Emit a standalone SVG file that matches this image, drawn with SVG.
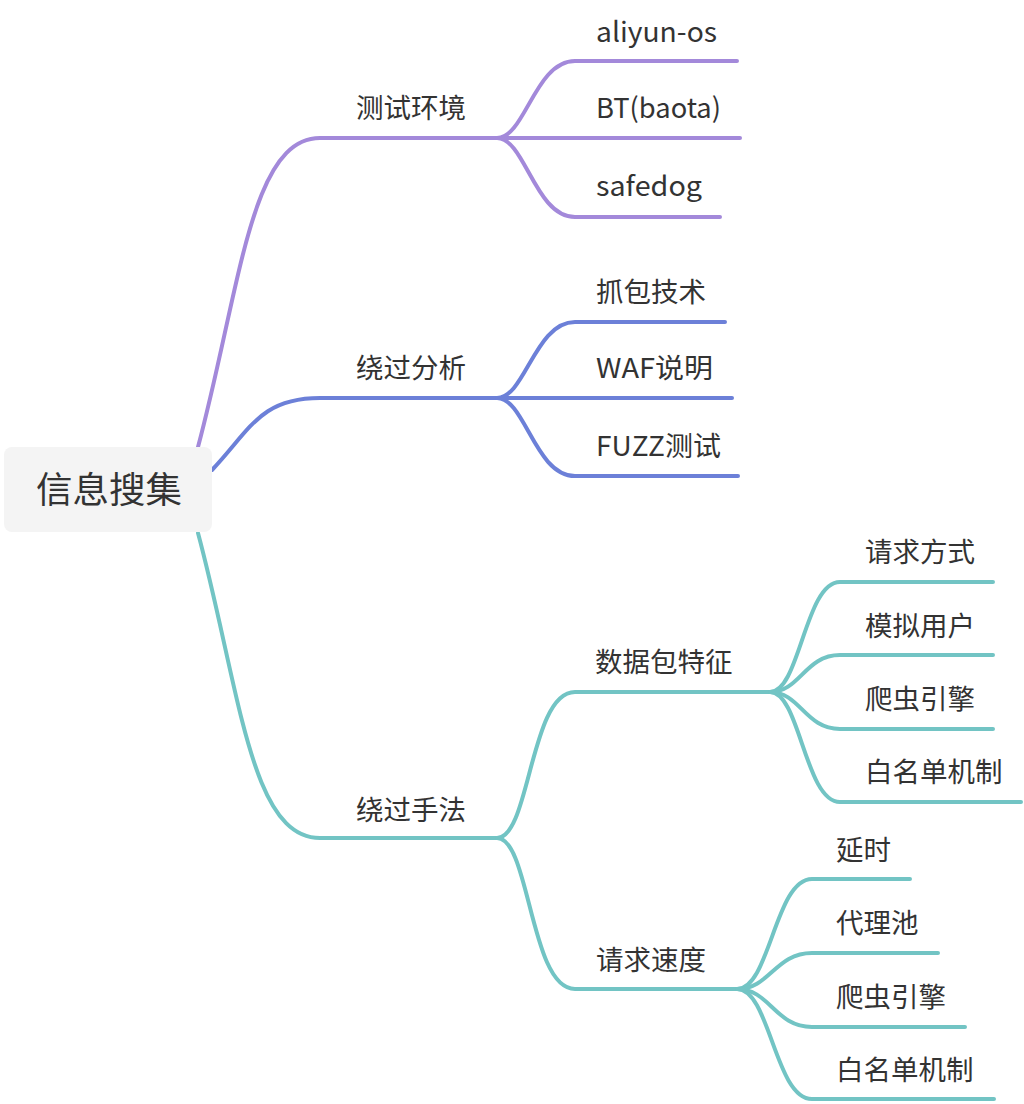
<svg xmlns="http://www.w3.org/2000/svg" width="1024" height="1104" viewBox="0 0 1024 1104">
<style>
.t{font-family:"Microsoft YaHei","Noto Sans CJK SC","Noto Sans",sans-serif;font-size:27.5px;fill:#333333}
.r{font-size:36.5px}
.c{fill:none;stroke-width:4;stroke-linecap:round;stroke-linejoin:round}
.p{stroke:#a389da}
.b{stroke:#6c80d8}
.g{stroke:#72c4c4}
</style>
<rect width="1024" height="1104" fill="#ffffff"/>
<g id="connectors">
<path class="c p" d="M198 447 C240 290 250 138 320 138 L497 138"/>
<path class="c p" d="M497 138 C525 138 535 61 575 61 L737 61"/>
<path class="c p" d="M497 138 L740 138"/>
<path class="c p" d="M497 138 C525 138 535 217 575 217 L720 217"/>
<path class="c b" d="M212 470 C250 430 260 398 320 398 L497 398"/>
<path class="c b" d="M497 398 C525 398 535 322 575 322 L725 322"/>
<path class="c b" d="M497 398 L732 398"/>
<path class="c b" d="M497 398 C525 398 535 476 575 476 L738 476"/>
<path class="c g" d="M198 533 C240 690 250 838 320 838 L497 838"/>
<path class="c g" d="M497 838 C530 838 530 692 575 692 L770 692"/>
<path class="c g" d="M497 838 C530 838 530 989 575 989 L737 989"/>
<path class="c g" d="M770 692 C800 692 805 582 840 582 L993 582"/>
<path class="c g" d="M770 692 C800 692 805 655 840 655 L993 655"/>
<path class="c g" d="M770 692 C800 692 805 729 840 729 L993 729"/>
<path class="c g" d="M770 692 C800 692 805 802 840 802 L1021 802"/>
<path class="c g" d="M737 989 C770 989 775 879 812 879 L910 879"/>
<path class="c g" d="M737 989 C770 989 775 953 812 953 L938 953"/>
<path class="c g" d="M737 989 C770 989 775 1027 812 1027 L965 1027"/>
<path class="c g" d="M737 989 C770 989 775 1099 812 1099 L994 1099"/>
</g>
<g id="root">
<rect x="4" y="447" width="208" height="85" rx="8" fill="#f4f4f4"/>
<text class="t r" x="36" y="503">信息搜集</text>
</g>
<g id="n-ceshi"><text class="t" x="356" y="118">测试环境</text></g>
<g id="n-aliyun"><text class="t" x="596" y="42" textLength="121" lengthAdjust="spacingAndGlyphs">aliyun-os</text></g>
<g id="n-bt"><text class="t" x="596" y="118" textLength="125" lengthAdjust="spacingAndGlyphs">BT(baota)</text></g>
<g id="n-safedog"><text class="t" x="596" y="196" textLength="106" lengthAdjust="spacingAndGlyphs">safedog</text></g>
<g id="n-raoguofenxi"><text class="t" x="356" y="378">绕过分析</text></g>
<g id="n-zhuabao"><text class="t" x="596" y="302">抓包技术</text></g>
<g id="n-waf"><text class="t" x="596" y="378" textLength="117" lengthAdjust="spacingAndGlyphs">WAF说明</text></g>
<g id="n-fuzz"><text class="t" x="596" y="456" textLength="125" lengthAdjust="spacingAndGlyphs">FUZZ测试</text></g>
<g id="n-raoguoshoufa"><text class="t" x="356" y="820">绕过手法</text></g>
<g id="n-shujubao"><text class="t" x="595" y="672">数据包特征</text></g>
<g id="n-qingqiufangshi"><text class="t" x="865" y="562">请求方式</text></g>
<g id="n-moni"><text class="t" x="865" y="636">模拟用户</text></g>
<g id="n-pachong1"><text class="t" x="865" y="709">爬虫引擎</text></g>
<g id="n-baimingdan1"><text class="t" x="865" y="782">白名单机制</text></g>
<g id="n-sudu"><text class="t" x="596" y="970">请求速度</text></g>
<g id="n-yanshi"><text class="t" x="836" y="860">延时</text></g>
<g id="n-daili"><text class="t" x="836" y="933">代理池</text></g>
<g id="n-pachong2"><text class="t" x="836" y="1007">爬虫引擎</text></g>
<g id="n-baimingdan2"><text class="t" x="836" y="1080">白名单机制</text></g>
</svg>
